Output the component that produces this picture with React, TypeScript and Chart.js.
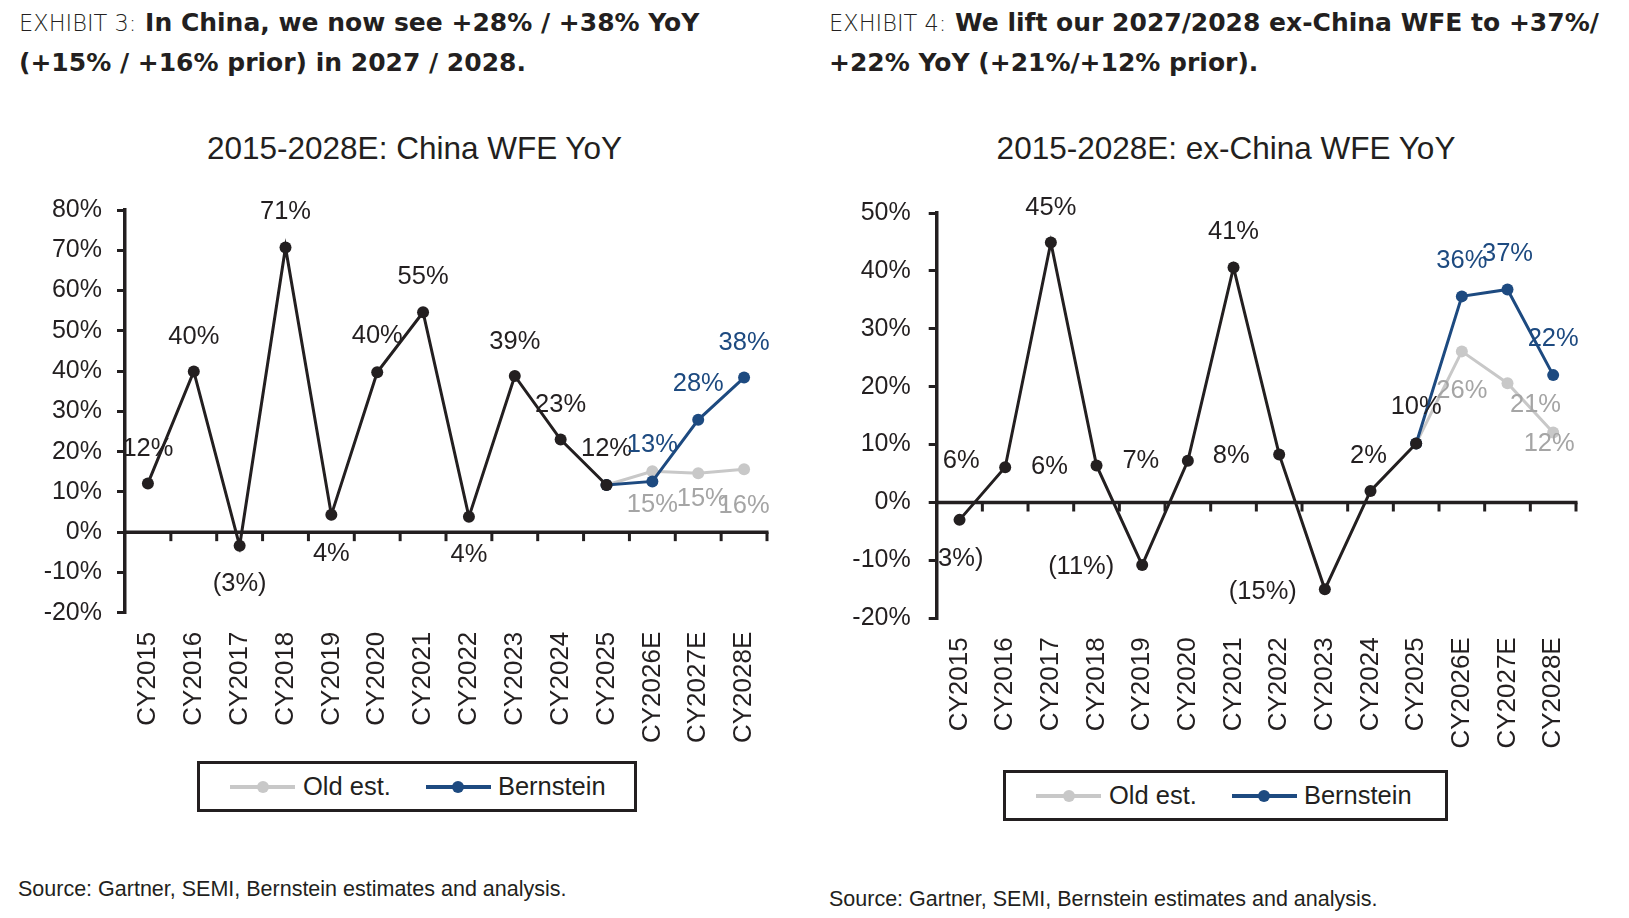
import React, { useEffect, useRef } from "react";
import Chart from "chart.js/auto";

const years = [
  "CY2015", "CY2016", "CY2017", "CY2018", "CY2019", "CY2020", "CY2021",
  "CY2022", "CY2023", "CY2024", "CY2025", "CY2026E", "CY2027E", "CY2028E",
];
const seriesNames = ["Actual", "Bernstein", "Old est."];

// China WFE YoY, %
const chinaActual = [12.1, 39.9, -3.4, 70.7, 4.3, 39.7, 54.6, 3.8, 38.8, 23.0, 11.7, null, null, null];
const chinaBernstein = [null, null, null, null, null, null, null, null, null, null, 11.7, 12.6, 27.9, 38.4];
const chinaOld = [null, null, null, null, null, null, null, null, null, null, 11.7, 15.1, 14.6, 15.6];
const chinaTicks = [-20, -10, 0, 10, 20, 30, 40, 50, 60, 70, 80];

// ex-China WFE YoY, %
const exActual = [-3.0, 6.1, 44.9, 6.4, -10.8, 7.2, 40.6, 8.3, -15.0, 2.0, 10.2, null, null, null];
const exBernstein = [null, null, null, null, null, null, null, null, null, null, 10.2, 35.6, 36.8, 22.0];
const exOld = [null, null, null, null, null, null, null, null, null, null, 10.2, 26.1, 20.6, 12.1];
const exTicks = [-20, -10, 0, 10, 20, 30, 40, 50];

// where each value label sits, relative to its point [dx, dy]
const chinaActualLbl = [[0, -34], [0, -35], [0, 38], [0, -35], [0, 39], [0, -36], [0, -35], [0, 38], [0, -34], [0, -35], [0, -36], null, null, null];
const chinaBernsteinLbl = [null, null, null, null, null, null, null, null, null, null, null, [0, -36], [0, -36], [0, -35]];
const chinaOldLbl = [null, null, null, null, null, null, null, null, null, null, null, [0, 34], [4, 26], [0, 37]];
const exActualLbl = [[-3, 39], [-44, -6], [0, -35], [-47, 2], [-61, 2], [-47, 0], [0, -35], [-48, 2], [-62, 3], [-2, -35], [0, -36], null, null, null];
const exBernsteinLbl = [null, null, null, null, null, null, null, null, null, null, null, [0, -35], [0, -35], [0, -36]];
const exOldLbl = [null, null, null, null, null, null, null, null, null, null, null, [0, 40], [28, 22], [-4, 12]];

const INK = "#231F20";
const BLUE = "#1D4A80";
const GREY = "#C8C8C8";
const GREY_TEXT = "#A5A5A5";
const SANS = "'Liberation Sans', Arial, sans-serif";
const HEAD = "'DejaVu Sans', sans-serif";

const pct = (v: number) => (v < 0 ? `(${Math.round(-v)}%)` : `${Math.round(v)}%`);

const zeroAxis = {
  id: "zeroAxis",
  beforeDatasetsDraw(chart: any) {
    const { ctx, chartArea, scales } = chart;
    const y0 = scales.y.getPixelForValue(0);
    const n = chart.data.labels.length;
    ctx.save();
    ctx.strokeStyle = INK;
    ctx.lineWidth = 3.5;
    ctx.beginPath();
    ctx.moveTo(chartArea.left, y0);
    ctx.lineTo(chartArea.right + 1.5, y0);
    ctx.stroke();
    ctx.lineWidth = 3;
    for (let i = 1; i <= n; i++) {
      const bx = i < n
        ? (scales.x.getPixelForValue(i - 1) + scales.x.getPixelForValue(i)) / 2
        : chartArea.right;
      ctx.beginPath();
      ctx.moveTo(bx, y0);
      ctx.lineTo(bx, y0 + 9);
      ctx.stroke();
    }
    ctx.restore();
  },
};

const pointLabels = {
  id: "pointLabels",
  afterDatasetsDraw(chart: any) {
    const { ctx, chartArea } = chart;
    ctx.save();
    ctx.beginPath();
    ctx.rect(chartArea.left + 1, 0, chart.width, chart.height);
    ctx.clip();
    ctx.font = `25.5px ${SANS}`;
    ctx.textAlign = "center";
    ctx.textBaseline = "middle";
    chart.data.datasets.forEach((ds: any, di: number) => {
      const meta = chart.getDatasetMeta(di);
      meta.data.forEach((pt: any, i: number) => {
        const v = ds.data[i];
        const off = ds.labelOffsets[i];
        if (v == null || !off) return;
        ctx.fillStyle = ds.textColor;
        ctx.fillText(pct(v), pt.x + off[0], pt.y + off[1]);
      });
    });
    ctx.restore();
  },
};

type SeriesDef = {
  name: string;
  data: (number | null)[];
  color: string;
  textColor: string;
  offsets: (number[] | null)[];
};

interface WfeChartProps {
  box: { left: number; top: number; width: number; height: number };
  area: { left: number; top: number; right: number; bottom: number };
  yTicks: number[];
  series: SeriesDef[];
  labelPad: number;
  tickPad: number;
}

const WfeChart: React.FC<WfeChartProps> = ({ box, area, yTicks, series, labelPad, tickPad }) => {
  const canvasRef = useRef<HTMLCanvasElement>(null);

  useEffect(() => {
    if (!canvasRef.current) return;
    const ctx = canvasRef.current.getContext("2d");
    if (!ctx) return;

    const chart = new Chart(ctx, {
      type: "line",
      data: {
        labels: years,
        datasets: series.map((s) => ({
          label: s.name,
          data: s.data,
          borderColor: s.color,
          backgroundColor: s.color,
          pointBackgroundColor: s.color,
          pointBorderWidth: 0,
          pointRadius: 6,
          borderWidth: 3,
          tension: 0,
          textColor: s.textColor,
          labelOffsets: s.offsets,
        })) as any,
      },
      options: {
        animation: false,
        responsive: false,
        events: [],
        layout: { padding: { top: area.top, right: area.right, left: 0, bottom: 0 } },
        plugins: {
          legend: { display: false },
          tooltip: { enabled: false },
        },
        scales: {
          x: {
            offset: true,
            grid: { display: false, drawTicks: false, offset: true },
            border: { display: false },
            ticks: {
              autoSkip: false,
              minRotation: 90,
              maxRotation: 90,
              padding: labelPad,
              color: INK,
              font: { family: SANS, size: 26 },
            },
            afterFit: (s: any) => {
              s.height = area.bottom;
            },
          },
          y: {
            min: yTicks[0],
            max: yTicks[yTicks.length - 1],
            border: { display: true, color: INK, width: 3.5 },
            grid: { drawOnChartArea: false, color: INK, lineWidth: 3, tickLength: 8 },
            ticks: {
              stepSize: yTicks[1] - yTicks[0],
              padding: tickPad,
              color: INK,
              font: { family: SANS, size: 25 },
              callback: (v: any) => `${v}%`,
            },
            afterFit: (s: any) => {
              s.width = area.left;
            },
          },
        },
      },
      plugins: [zeroAxis, pointLabels],
    });

    return () => {
      chart.destroy();
    };
  }, []);

  return (
    <canvas
      ref={canvasRef}
      width={box.width}
      height={box.height}
      style={{ position: "absolute", left: box.left, top: box.top }}
    />
  );
};

const Swatch: React.FC<{ color: string; gap: number }> = ({ color, gap }) => (
  <div style={{ position: "relative", width: 65, height: 4, background: color, marginLeft: gap, flex: "none" }}>
    <div
      style={{
        position: "absolute", left: 26.5, top: -4, width: 12, height: 12,
        borderRadius: "50%", background: color,
      }}
    />
  </div>
);

const Legend: React.FC<{ left: number; top: number; width: number }> = ({ left, top, width }) => (
  <div
    style={{
      position: "absolute", left, top, width, height: 51, boxSizing: "border-box",
      border: `3.5px solid ${INK}`, display: "flex", alignItems: "center",
      fontFamily: SANS, fontSize: 25.5, color: INK,
    }}
  >
    <Swatch color={GREY} gap={30} />
    <span style={{ marginLeft: 8 }}>{seriesNames[2]}</span>
    <Swatch color={BLUE} gap={35} />
    <span style={{ marginLeft: 7 }}>{seriesNames[1]}</span>
  </div>
);

const Headline: React.FC<{ left: number; exhibit: string; lines: string[] }> = ({ left, exhibit, lines }) => (
  <div
    style={{
      position: "absolute", left, top: 3, whiteSpace: "nowrap",
      fontFamily: HEAD, fontWeight: 700, fontSize: 25, lineHeight: "40px", color: INK,
    }}
  >
    <span style={{ fontWeight: 200, fontSize: 22.5, lineHeight: 1 }}>{exhibit}</span> {lines[0]}
    <br />
    {lines[1]}
  </div>
);

const Title: React.FC<{ center: number; text: string }> = ({ center, text }) => (
  <div
    style={{
      position: "absolute", left: center - 300, width: 600, top: 132.8, textAlign: "center",
      fontFamily: SANS, fontSize: 31.5, lineHeight: "31.5px", color: INK, whiteSpace: "nowrap",
    }}
  >
    {text}
  </div>
);

const Source: React.FC<{ left: number; top: number }> = ({ left, top }) => (
  <div
    style={{
      position: "absolute", left, top, fontFamily: SANS, fontSize: 21.5,
      lineHeight: "21.5px", color: INK, whiteSpace: "nowrap",
    }}
  >
    Source: Gartner, SEMI, Bernstein estimates and analysis.
  </div>
);

export default function App() {
  const chinaSeries: SeriesDef[] = [
    { name: seriesNames[0], data: chinaActual, color: INK, textColor: INK, offsets: chinaActualLbl },
    { name: seriesNames[1], data: chinaBernstein, color: BLUE, textColor: BLUE, offsets: chinaBernsteinLbl },
    { name: seriesNames[2], data: chinaOld, color: GREY, textColor: GREY_TEXT, offsets: chinaOldLbl },
  ];
  const exSeries: SeriesDef[] = [
    { name: seriesNames[0], data: exActual, color: INK, textColor: INK, offsets: exActualLbl },
    { name: seriesNames[1], data: exBernstein, color: BLUE, textColor: BLUE, offsets: exBernsteinLbl },
    { name: seriesNames[2], data: exOld, color: GREY, textColor: GREY_TEXT, offsets: exOldLbl },
  ];

  return (
    <div
      style={{
        position: "absolute", left: 0, top: 0, width: 1629, height: 918,
        background: "#fff", overflow: "hidden",
      }}
    >
      <Headline
        left={19}
        exhibit="EXHIBIT 3:"
        lines={["In China, we now see +28% / +38% YoY", "(+15% / +16% prior) in 2027 / 2028."]}
      />
      <Headline
        left={829}
        exhibit="EXHIBIT 4:"
        lines={["We lift our 2027/2028 ex-China WFE to +37%/", "+22% YoY (+21%/+12% prior)."]}
      />

      <Title center={414.5} text="2015-2028E: China WFE YoY" />
      <Title center={1226} text="2015-2028E: ex-China WFE YoY" />

      <WfeChart
        box={{ left: 0, top: 180, width: 800, height: 570 }}
        area={{ left: 125, top: 25, right: 33, bottom: 137.3 }}
        yTicks={chinaTicks}
        series={chinaSeries}
        labelPad={19}
        tickPad={15}
      />
      <WfeChart
        box={{ left: 810, top: 180, width: 800, height: 580 }}
        area={{ left: 126.7, top: 26, right: 34, bottom: 141.7 }}
        yTicks={exTicks}
        series={exSeries}
        labelPad={19}
        tickPad={18}
      />

      <Legend left={197} top={761} width={440} />
      <Legend left={1003} top={770} width={445} />

      <Source left={18} top={878.5} />
      <Source left={829} top={888.8} />
    </div>
  );
}
